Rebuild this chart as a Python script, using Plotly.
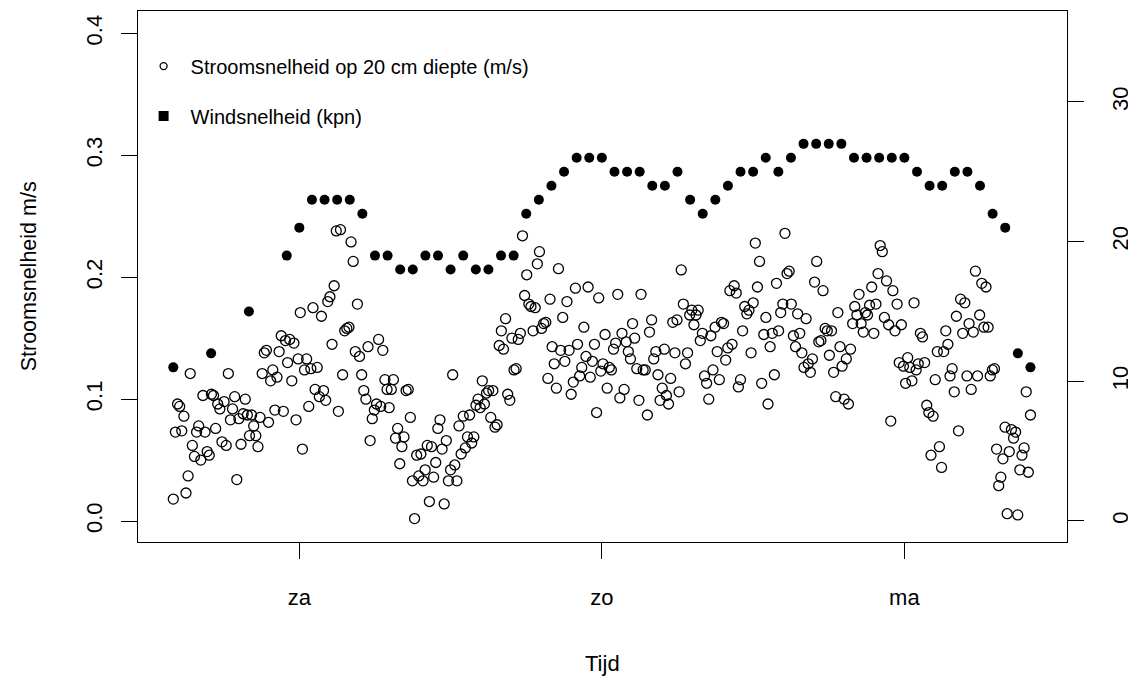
import numpy as np
import plotly.graph_objects as go

# ---------------- data ----------------
# current speed at 20 cm depth (m/s), 10-minute samples, Fri 14:00 -> Mon 10:00
current_fri_sat = [
    0.018, 0.073, 0.096, 0.094, 0.074, 0.086, 0.023, 0.037, 0.121, 0.062,
    0.053, 0.073, 0.078, 0.050, 0.103, 0.073, 0.057, 0.054, 0.104, 0.103,
    0.076, 0.096, 0.092, 0.065, 0.098, 0.062, 0.121, 0.083, 0.092, 0.102,
    0.034, 0.084, 0.063, 0.088, 0.100, 0.087, 0.070, 0.087, 0.078, 0.070,
    0.061, 0.085, 0.121, 0.138, 0.140, 0.081, 0.115, 0.124, 0.091, 0.118,
    0.139, 0.152, 0.090, 0.148, 0.130,
]
current_sat_a = [
    0.149, 0.115, 0.146, 0.083, 0.133, 0.171, 0.059, 0.124, 0.133, 0.094,
    0.125, 0.175, 0.108, 0.126, 0.102, 0.168, 0.107, 0.099, 0.180, 0.184,
    0.145, 0.193, 0.238, 0.090, 0.239, 0.120, 0.156, 0.158, 0.159, 0.229,
    0.213, 0.139, 0.178, 0.135, 0.120, 0.107, 0.100, 0.143, 0.066, 0.084,
    0.091, 0.096, 0.149, 0.094, 0.140, 0.116, 0.108, 0.093, 0.108, 0.116,
    0.068, 0.076, 0.047, 0.061, 0.069, 0.107, 0.108, 0.085, 0.033, 0.002,
    0.054,
]
current_sat_b = [
    0.037, 0.055, 0.033, 0.042, 0.062, 0.016, 0.061, 0.036, 0.048, 0.076,
    0.083, 0.059, 0.014, 0.066, 0.033, 0.042, 0.120, 0.046, 0.033, 0.078,
    0.055, 0.086, 0.060, 0.069, 0.087, 0.064, 0.069, 0.095, 0.100, 0.093,
    0.115, 0.096, 0.105, 0.107, 0.085, 0.107, 0.077, 0.079, 0.144, 0.156,
    0.141, 0.166, 0.104, 0.099, 0.150, 0.124, 0.125, 0.149, 0.154, 0.234,
    0.185, 0.202, 0.178, 0.176, 0.156, 0.175, 0.211, 0.221,
]
current_sun_a = [
    0.158, 0.162, 0.163, 0.117, 0.182, 0.143, 0.129, 0.109, 0.207, 0.140,
    0.167, 0.131, 0.180, 0.140, 0.104, 0.114, 0.191, 0.145, 0.119, 0.126,
    0.159, 0.135, 0.192, 0.118, 0.131, 0.145, 0.089, 0.183, 0.123, 0.129,
    0.153, 0.109, 0.126, 0.124, 0.141, 0.146, 0.186, 0.101, 0.154, 0.108,
    0.147, 0.139, 0.133, 0.162, 0.150, 0.125, 0.099, 0.186, 0.124, 0.124,
    0.087, 0.155, 0.165, 0.133, 0.139, 0.120, 0.099, 0.109, 0.141,
]
current_sun_b = [
    0.103, 0.096, 0.117, 0.163, 0.138, 0.165, 0.106, 0.206, 0.178, 0.129,
    0.138, 0.169, 0.173, 0.161, 0.169, 0.173, 0.148, 0.154, 0.119, 0.113,
    0.100, 0.152, 0.124, 0.159, 0.139, 0.116, 0.163, 0.162, 0.132, 0.142,
    0.189, 0.145, 0.193, 0.187, 0.110, 0.116, 0.156, 0.176, 0.170, 0.173,
    0.138, 0.179, 0.228, 0.192, 0.213, 0.113, 0.153, 0.167, 0.096, 0.143,
    0.154, 0.120, 0.195, 0.156, 0.171, 0.178, 0.236, 0.203, 0.205, 0.178,
    0.152, 0.143,
]
current_sun_c = [
    0.170, 0.154, 0.138, 0.126, 0.166, 0.129, 0.122, 0.133, 0.196, 0.213,
    0.147, 0.148, 0.189, 0.158, 0.156, 0.136, 0.156, 0.122, 0.102, 0.171,
    0.143, 0.127, 0.100, 0.133, 0.096, 0.141, 0.162, 0.176, 0.169, 0.186,
    0.162, 0.155, 0.171, 0.169, 0.177, 0.192, 0.154, 0.178, 0.203, 0.226,
    0.221, 0.167, 0.197, 0.161, 0.082, 0.189, 0.156, 0.178, 0.130, 0.161,
    0.127, 0.113, 0.134, 0.126, 0.115, 0.179,
]
current_mon = [
    0.124, 0.129, 0.154, 0.151, 0.130, 0.095, 0.089, 0.054, 0.086, 0.116,
    0.139, 0.061, 0.044, 0.139, 0.156, 0.145, 0.119, 0.125, 0.106, 0.168,
    0.074, 0.182, 0.154, 0.179, 0.119, 0.162, 0.108, 0.155, 0.205, 0.119,
    0.169, 0.195, 0.159, 0.192, 0.159, 0.119, 0.124, 0.125, 0.059, 0.029,
    0.036, 0.051, 0.077, 0.006, 0.057, 0.075, 0.068, 0.073, 0.005, 0.042,
    0.054, 0.060, 0.106, 0.040, 0.087,
]
current = (current_fri_sat + current_sat_a + current_sat_b + current_sun_a
           + current_sun_b + current_sun_c + current_mon)

# start/end of current record, hours relative to Saturday 00:00
current_start_h = -10
current_end_h = 58

# wind speed (kpn) with observation hours relative to Saturday 00:00
wind_hours = [-10, -7, -4, -1] + list(range(0, 59))
wind = [11, 12, 15, 19,
        21, 23, 23, 23, 23, 22, 19, 19, 18, 18,
        19, 19, 18, 19, 18, 18, 19, 19, 22, 23,
        24, 25, 26, 26, 26, 25, 25, 25, 24, 24,
        25, 23, 22, 23, 24, 25, 25, 26, 25, 26,
        27, 27, 27, 27, 26, 26, 26, 26, 26, 25,
        24, 24, 25, 25, 24, 22, 21, 12, 11]

day_ticks = [0, 24, 48]
day_labels = ["za", "zo", "ma"]
left_ticks = [0.0, 0.1, 0.2, 0.3, 0.4]
right_ticks = [0, 10, 20, 30]

# ---------------- figure ----------------
FONT = "Liberation Sans, Arial, Helvetica, sans-serif"
t_cur = np.linspace(current_start_h, current_end_h, len(current))

fig = go.Figure()
fig.add_trace(go.Scatter(
    x=t_cur, y=current, mode="markers", showlegend=False,
    marker=dict(symbol="circle-open", size=10, color="black", line=dict(width=1.3)),
    yaxis="y"))
fig.add_trace(go.Scatter(
    x=wind_hours, y=wind, mode="markers", showlegend=False,
    marker=dict(symbol="circle", size=10, color="black"),
    yaxis="y2"))
# legend entries
fig.add_trace(go.Scatter(
    x=[None], y=[None], mode="markers", name="Stroomsnelheid op 20 cm diepte (m/s)",
    legendgroup="a",
    marker=dict(symbol="circle-open", size=7, color="black", line=dict(width=1.3))))
fig.add_trace(go.Scatter(
    x=[None], y=[None], mode="markers", name="Windsnelheid (kpn)",
    legendgroup="b",
    marker=dict(symbol="square", size=10, color="black")))

axis_common = dict(
    showgrid=False, zeroline=False, showline=True, linecolor="black", linewidth=1.3,
    ticks="outside", ticklen=16, tickwidth=1.3, tickcolor="black",
    tickfont=dict(family=FONT, size=22, color="black"),
)

fig.update_layout(
    width=1128, height=672,
    margin=dict(l=130, r=69, t=3, b=138),
    paper_bgcolor="white", plot_bgcolor="white",
    font=dict(family=FONT, color="black"),
    xaxis=dict(range=[-12.8, 60.9], tickvals=day_ticks, ticktext=day_labels,
               mirror=True, ticklabelstandoff=19, **axis_common),
    yaxis=dict(range=[-0.0172, 0.4184], tickvals=left_ticks,
               ticktext=[f"{v:.1f}" for v in left_ticks], tickangle=-90,
               ticklabelstandoff=10, **axis_common),
    yaxis2=dict(range=[-1.504, 36.51], tickvals=right_ticks, overlaying="y",
                side="right", tickangle=-90, ticklabelstandoff=17, **axis_common),
    legend=dict(x=-0.0015, y=0.933, xanchor="left", yanchor="top",
                bgcolor="rgba(0,0,0,0)", borderwidth=0, itemwidth=44,
                font=dict(family=FONT, size=20, color="black"),
                tracegroupgap=21, traceorder="grouped"),
    annotations=[
        dict(text="Stroomsnelheid m/s", xref="paper", yref="paper",
             x=-0.1175, y=0.5, textangle=-90, showarrow=False,
             xanchor="center", yanchor="middle",
             font=dict(family=FONT, size=21.5, color="black")),
        dict(text="Tijd", xref="paper", yref="paper",
             x=0.5, y=-0.2284, showarrow=False,
             xanchor="center", yanchor="middle",
             font=dict(family=FONT, size=22, color="black")),
    ],
)

fig.write_html("out.html")
